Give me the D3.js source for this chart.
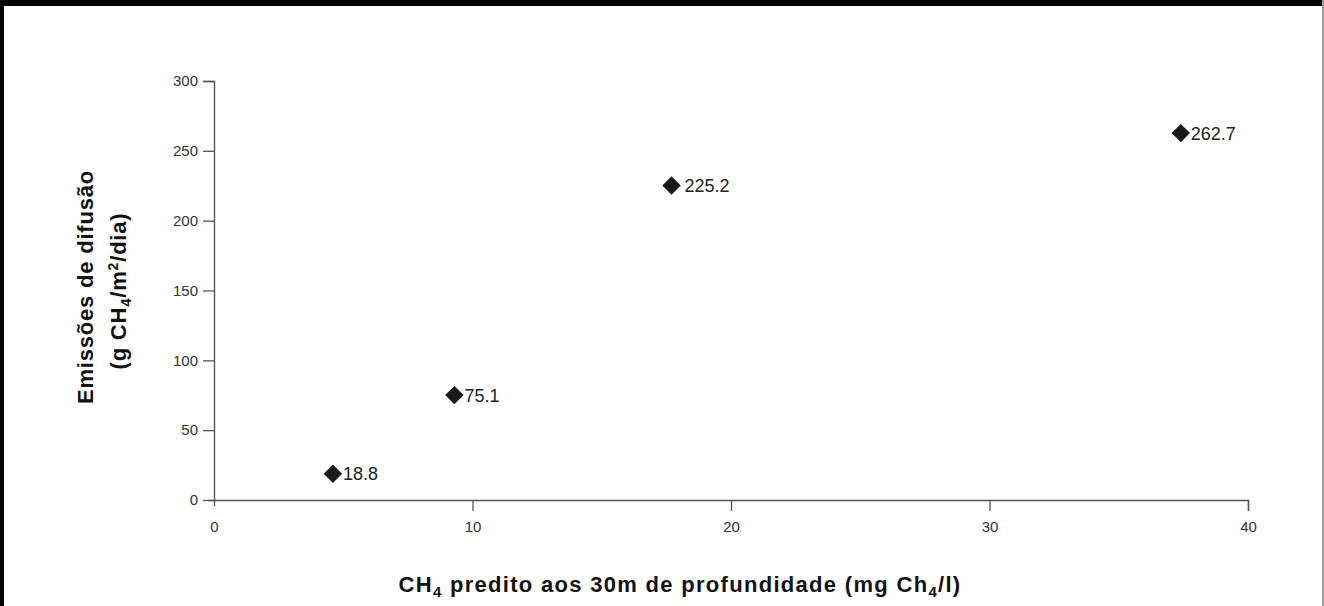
<!DOCTYPE html>
<html>
<head>
<meta charset="utf-8">
<script src="https://cdn.jsdelivr.net/npm/d3@7"></script>
<style>
  body { margin: 0; background: #fff; }
  svg { display: block; }
  .title { font-family: "Liberation Sans", Arial, sans-serif; font-weight: bold; fill: #111; }
</style>
</head>
<body>
<svg id="chart" width="1324" height="606"></svg>
<script>
// data
let predicted = [4.6, 9.3, 17.7, 37.4];       // CH4 at 30m (mg/l)
let emissions = [18.8, 75.1, 225.2, 262.7];   // g CH4/m2/dia
let labels = ["18.8", "75.1", "225.2", "262.7"];
let xTicks = [0, 10, 20, 30, 40];
let yTicks = [0, 50, 100, 150, 200, 250, 300];

let svg = d3.select("#chart");

// frame: black band on top, black left edge, thin grey right edge
svg.append("rect").attr("x", 0).attr("y", 0).attr("width", 1324).attr("height", 6).attr("fill", "#000");
svg.append("rect").attr("x", 0).attr("y", 0).attr("width", 4).attr("height", 606).attr("fill", "#000");
svg.append("rect").attr("x", 1322).attr("y", 0).attr("width", 2).attr("height", 606).attr("fill", "#999");

let xScale = d3.scaleLinear().domain([0, 40]).range([214, 1248]);
let yScale = d3.scaleLinear().domain([0, 300]).range([500, 81]);

let xAxis = d3.axisBottom(xScale).tickValues(xTicks).tickSize(11).tickPadding(10);
let yAxis = d3.axisLeft(yScale).tickValues(yTicks).tickSize(11).tickPadding(5);

let gx = svg.append("g").attr("transform", "translate(0,500)").call(xAxis);
let gy = svg.append("g").attr("transform", "translate(214,0)").call(yAxis);

// axis lines a little past the origin, like the original
gx.select(".domain").attr("d", "M208,0.5H1248.5V11").attr("stroke", "#555").attr("stroke-width", 1.4);
gy.select(".domain").attr("d", "M-11,81.5H0.5V506").attr("stroke", "#555").attr("stroke-width", 1.4);
svg.selectAll(".tick line").attr("stroke", "#555").attr("stroke-width", 1.3);
gx.selectAll(".tick").filter(d => d === 0).select("line").remove();
svg.selectAll(".tick text")
    .attr("font-family", "Liberation Sans, Arial, sans-serif")
    .attr("font-size", 15)
    .attr("fill", "#333");

// points
let pts = svg.append("g");
pts.selectAll("path")
    .data(predicted)
    .enter()
    .append("path")
    .attr("d", d3.symbol().type(d3.symbolSquare).size(170))
    .attr("transform", (d, i) => "translate(" + xScale(d) + "," + yScale(emissions[i]) + ") rotate(45)")
    .attr("fill", "#1a1a1a");

pts.selectAll("text")
    .data(predicted)
    .enter()
    .append("text")
    .attr("x", (d, i) => xScale(d) + (i === 2 ? 13 : 10))
    .attr("y", (d, i) => yScale(emissions[i]))
    .attr("dy", "0.36em")
    .attr("font-family", "Liberation Sans, Arial, sans-serif")
    .attr("font-size", 18)
    .attr("fill", "#222")
    .text((d, i) => labels[i]);

// y title (two lines, rotated)
let yt = svg.append("text").attr("class", "title")
    .attr("font-size", 22)
    .attr("letter-spacing", 0.8)
    .attr("transform", "translate(93,287) rotate(-90)")
    .attr("text-anchor", "middle");
yt.append("tspan").attr("x", 0).attr("y", 0).text("Emissões de difusão");
let yl2 = yt.append("tspan").attr("x", -4).attr("y", 33);
yl2.append("tspan").text("(g CH");
yl2.append("tspan").attr("font-size", 15).attr("dy", 5).text("4");
yl2.append("tspan").attr("dy", -5).text("/m");
yl2.append("tspan").attr("font-size", 14).attr("dy", -8).text("2");
yl2.append("tspan").attr("dy", 8).text("/dia)");

// x title
let xt = svg.append("text").attr("class", "title")
    .attr("font-size", 22)
    .attr("letter-spacing", 1.3)
    .attr("x", 680).attr("y", 592)
    .attr("text-anchor", "middle");
xt.append("tspan").text("CH");
xt.append("tspan").attr("font-size", 15).attr("dy", 5).text("4");
xt.append("tspan").attr("dy", -5).text(" predito aos 30m de profundidade (mg Ch");
xt.append("tspan").attr("font-size", 15).attr("dy", 5).text("4");
xt.append("tspan").attr("dy", -5).text("/l)");
</script>
</body>
</html>
